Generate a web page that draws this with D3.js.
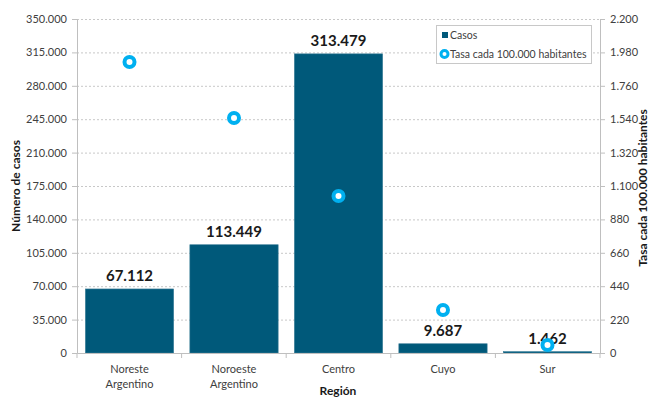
<!DOCTYPE html>
<html><head><meta charset="utf-8">
<script src="https://cdn.jsdelivr.net/npm/d3@7"></script>
<style>
body{margin:0;background:#fff;}
text{font-family:Lato,"Open Sans",sans-serif;}
</style></head>
<body><svg id="c" width="651" height="399"></svg>
<script>
const regions = [["Noreste","Argentino"],["Noroeste","Argentino"],["Centro"],["Cuyo"],["Sur"]];
const casos = [67112, 113449, 313479, 9687, 1462];
const tasa = [1917, 1548, 1034, 283, 53];
const leftTicks = [0,35000,70000,105000,140000,175000,210000,245000,280000,315000,350000];
const rightTicks = [0,220,440,660,880,1100,1320,1540,1760,1980,2200];

const svg = d3.select("#c");
const L=77, R=600, T=19, B=353;
const fmt = v => d3.format(",")(v).replace(/,/g,".");
const x = d3.scaleBand().domain(d3.range(regions.length)).range([L,R]).paddingInner(0.155).paddingOuter(0.08);
const y = d3.scaleLinear().domain([0,350000]).range([B,T]);
const y2 = d3.scaleLinear().domain([0,2200]).range([B,T]);

// grid
svg.append("g").selectAll("line").data(leftTicks.slice(1)).join("line")
  .attr("x1",L).attr("x2",R).attr("y1",d=>y(d)+0.5).attr("y2",d=>y(d)+0.5)
  .attr("stroke","#c8c8c8").attr("stroke-dasharray","2,2");

// bars
svg.append("g").selectAll("rect").data(casos).join("rect")
  .attr("x",(d,i)=>x(i)).attr("width",x.bandwidth())
  .attr("y",d=>y(d)).attr("height",d=>B-y(d))
  .attr("fill","#00597a").attr("stroke","#3d7f99").attr("stroke-width",0.6);

// axes
const ga = svg.append("g").attr("transform",`translate(${L},0)`)
  .call(d3.axisLeft(y).tickValues(leftTicks).tickFormat(fmt).tickSize(5).tickPadding(5));
const gb = svg.append("g").attr("transform",`translate(${R},0)`)
  .call(d3.axisRight(y2).tickValues(rightTicks).tickFormat(fmt).tickSize(5).tickPadding(5));
const gx = svg.append("g").attr("transform",`translate(0,${B})`)
  .call(d3.axisBottom(x).tickValues([]).tickSize(0));
svg.append("g").selectAll("line").data(d3.range(regions.length+1)).join("line")
  .attr("x1",i=>L+i*(R-L)/regions.length).attr("x2",i=>L+i*(R-L)/regions.length)
  .attr("y1",B).attr("y2",B+5).attr("stroke","#bfbfbf");
[ga,gb,gx].forEach(g=>{
  g.selectAll("path").attr("stroke","#bfbfbf");
  g.selectAll("line").attr("stroke","#bfbfbf");
  g.selectAll("text").attr("font-size",11).attr("fill","#404040");
});

// category labels
const cl = svg.append("g").selectAll("text").data(regions).join("text")
  .attr("text-anchor","middle").attr("font-size",11).attr("fill","#404040");
cl.each(function(d,i){
  const t=d3.select(this);
  d.forEach((s,k)=>t.append("tspan").attr("x",x(i)+x.bandwidth()/2).attr("y",B+20+k*15).text(s));
});

// data labels
svg.append("g").selectAll("text").data(casos).join("text")
  .attr("x",(d,i)=>x(i)+x.bandwidth()/2).attr("y",d=>y(d)-8)
  .attr("text-anchor","middle").attr("font-size",15).attr("font-weight","bold").attr("fill","#1a1a1a")
  .text(fmt);

// rate markers
svg.append("g").selectAll("circle").data(tasa).join("circle")
  .attr("cx",(d,i)=>x(i)+x.bandwidth()/2).attr("cy",d=>y2(d)).attr("r",5)
  .attr("fill","#fff").attr("stroke","#00b0f0").attr("stroke-width",4);

// axis titles
svg.append("text").attr("transform",`translate(20,${(T+B)/2}) rotate(-90)`)
  .attr("text-anchor","middle").attr("font-size",12).attr("font-weight","bold").attr("fill","#1a1a1a").text("Número de casos");
svg.append("text").attr("transform",`translate(647,${(T+B)/2+2}) rotate(-90)`)
  .attr("text-anchor","middle").attr("font-size",12).attr("font-weight","bold").attr("fill","#1a1a1a").text("Tasa cada 100.000 habitantes");
svg.append("text").attr("x",338).attr("y",395)
  .attr("text-anchor","middle").attr("font-size",12).attr("font-weight","bold").attr("fill","#1a1a1a").text("Región");

// legend
const lg = svg.append("g");
lg.append("rect").attr("x",436.5).attr("y",25.5).attr("width",155).attr("height",38)
  .attr("fill","#fff").attr("stroke","#c8c8c8");
lg.append("rect").attr("x",442).attr("y",32).attr("width",6).attr("height",6).attr("fill","#00597a");
lg.append("text").attr("x",450).attr("y",39).attr("font-size",10.5).attr("fill","#404040").text("Casos");
lg.append("circle").attr("cx",444.5).attr("cy",54).attr("r",3.5).attr("fill","#fff").attr("stroke","#00b0f0").attr("stroke-width",3);
lg.append("text").attr("x",450).attr("y",58).attr("font-size",10.5).attr("fill","#404040").text("Tasa cada 100.000 habitantes");
</script></body></html>
